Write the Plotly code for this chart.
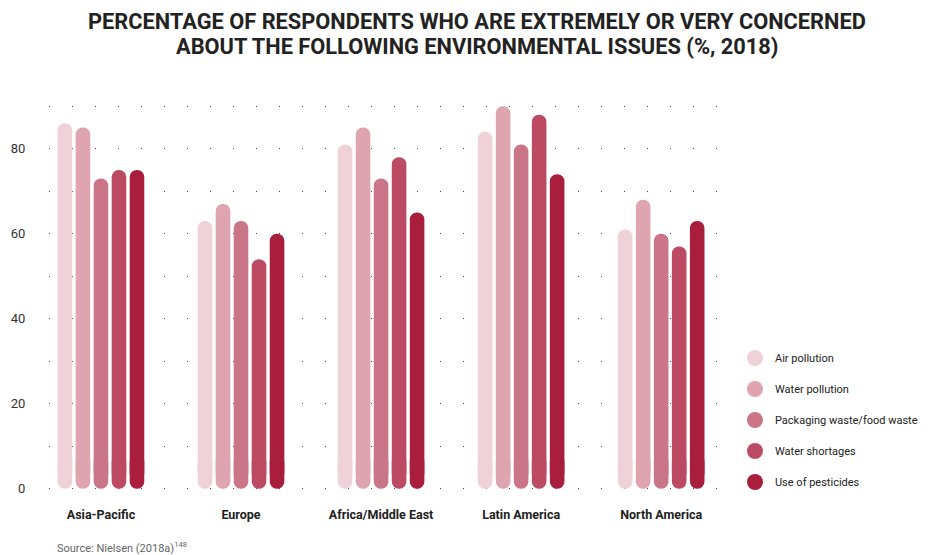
import plotly.graph_objects as go

regions = ["Asia-Pacific", "Europe", "Africa/Middle East", "Latin America", "North America"]
series_names = ["Air pollution", "Water pollution", "Packaging waste/food waste",
                "Water shortages", "Use of pesticides"]
air_pollution = [86, 63, 81, 84, 61]
water_pollution = [85, 67, 85, 90, 68]
packaging_waste = [73, 63, 73, 81, 60]
water_shortages = [75, 54, 78, 88, 57]
pesticides = [75, 60, 65, 74, 63]
series_values = [air_pollution, water_pollution, packaging_waste, water_shortages, pesticides]
colors = ["#EFD2D8", "#DEA4AF", "#CB7589", "#BC4A63", "#A81E3C"]

y_tickvals = [0, 10, 20, 30, 40, 50, 60, 70, 80, 90]
y_ticktext = ["0", "", "20", "", "40", "", "60", "", "80", ""]

title_lines = ["PERCENTAGE OF RESPONDENTS WHO ARE EXTREMELY OR VERY CONCERNED",
               "ABOUT THE FOLLOWING ENVIRONMENTAL ISSUES (%, 2018)"]

FONT = "Roboto, sans-serif"
Y_RANGE = [-1, 91]
CAP = 8       # height (units) of the bottom cap segment
MAIN_BASE = 2 # where the main segment starts (inside the cap)
SHIFT = 50    # offset of the helper axis so the cap's rounded end is at the bottom

fig = go.Figure()
for i, (name, vals, col) in enumerate(zip(series_names, series_values, colors)):
    grp = f"g{i}"
    # main part: rounded top
    fig.add_trace(go.Bar(
        x=regions, y=[v - MAIN_BASE for v in vals], base=[MAIN_BASE] * len(vals),
        marker=dict(color=col, line=dict(width=0)), offsetgroup=grp,
        showlegend=False, hoverinfo="skip"))
for i, (name, vals, col) in enumerate(zip(series_names, series_values, colors)):
    grp = f"g{i}"
    # bottom cap on shifted helper axis: rounded bottom
    fig.add_trace(go.Bar(
        x=regions, y=[-CAP] * len(vals), base=[CAP - SHIFT] * len(vals),
        yaxis="y2",
        marker=dict(color=col, line=dict(width=0)), offsetgroup=grp,
        showlegend=False, hoverinfo="skip"))
for i, (name, col) in enumerate(zip(series_names, colors)):
    fig.add_trace(go.Scatter(
        x=[regions[0]], y=[None], mode="markers", name=name, legendgroup=f"l{i}",
        marker=dict(color=col, size=16, symbol="circle")))

annotations = [
    dict(text=title_lines[0], xref="paper", yref="paper", x=0.6313, y=(485.25 - 14) / 391,
         xanchor="center", yanchor="middle", showarrow=False,
         font=dict(family=FONT, size=21.8, color="#222222", weight="bold")),
    dict(text=title_lines[1], xref="paper", yref="paper", x=0.6313, y=(485.25 - 39) / 391,
         xanchor="center", yanchor="middle", showarrow=False,
         font=dict(family=FONT, size=21.8, color="#222222", weight="bold")),
    dict(text="Source: Nielsen (2018a)<sup>148</sup>",
         xref="paper", yref="paper", x=0.0088, y=-0.14,
         xanchor="left", yanchor="middle", showarrow=False,
         font=dict(family=FONT, size=11, color="#666666")),
]

fig.update_layout(
    width=920, height=547,
    margin=dict(l=41, r=201, t=94, b=62),
    paper_bgcolor="white", plot_bgcolor="white",
    barmode="group", bargap=0.357, bargroupgap=0.19,
    barcornerradius="50%",
    xaxis=dict(
        range=[-0.371, 4.47], showgrid=False, zeroline=False, showline=False,
        ticks="outside", ticklen=10, tickcolor="rgba(0,0,0,0)", automargin=False,
        tickfont=dict(family=FONT, size=12.5, color="#222222", weight="bold"),
    ),
    yaxis=dict(
        range=Y_RANGE, tickvals=y_tickvals, ticktext=y_ticktext,
        showgrid=True, gridcolor="#444444", gridwidth=1.4, griddash="1.4px,21.6px",
        zeroline=False, showline=False, automargin=False,
        ticks="outside", ticklen=20, tickcolor="rgba(0,0,0,0)",
        tickfont=dict(family=FONT, size=13, color="#333333"),
    ),
    yaxis2=dict(
        range=[Y_RANGE[0] - SHIFT, Y_RANGE[1] - SHIFT], overlaying="y",
        visible=False, showgrid=False, zeroline=False, automargin=False,
    ),
    legend=dict(
        xref="container", yref="container", x=0.7902, y=0.2468,
        xanchor="left", yanchor="middle", tracegroupgap=12,
        font=dict(family=FONT, size=11, color="#222222"),
        itemwidth=30,
    ),
    annotations=annotations,
)

fig.write_html("out.html")
